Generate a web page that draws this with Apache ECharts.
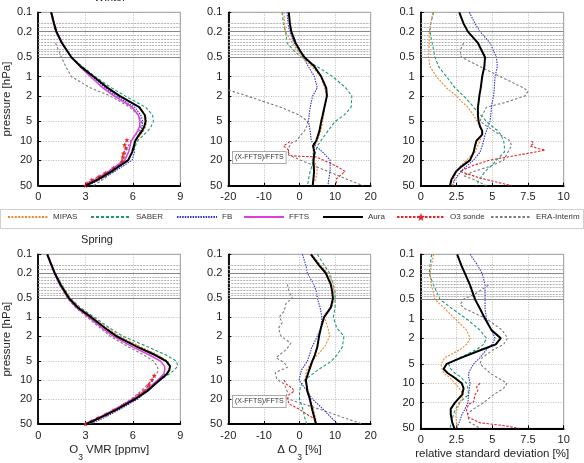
<!DOCTYPE html>
<html><head><meta charset="utf-8">
<script src="https://cdn.jsdelivr.net/npm/echarts@6/dist/echarts.min.js"></script>
<style>html,body{margin:0;padding:0;background:#fff}#c{width:584px;height:463px}</style>
</head><body><div id="c"></div>
<script>
// ---------- pressure levels [hPa] ----------
const P1 = [0.1,0.15,0.2,0.3,0.5,0.7,1,1.5,2,3,4,5,6,7,8,10,15,20,30,40,50];
const P2 = [0.1,0.15,0.2,0.3,0.4,0.5,0.7,1,1.5,2,3,4,5,7,10,12,15,20,30,40,50];
const P3 = [0.1,0.15,0.2,0.3,0.5,0.7,1,1.5,2,2.5,3,4,5,6,7,8,10,12,15,20,25,30,40,50];
const pEraVmr = [0.3,0.5,0.7,1,1.5,2,3,4,5,6,7,8,10,15,20,30,40,50];

// ---------- Winter: O3 VMR [ppmv] ----------
const wVmrAura  = [0.82,1.0,1.15,1.5,2.1,2.7,3.5,4.4,5.15,6.4,6.76,6.8,6.72,6.58,6.4,6.15,5.95,5.7,4.65,3.8,3.0];
const wVmrFFTS  = [0.85,1.02,1.17,1.52,2.1,2.65,3.3,4.1,4.8,5.95,6.35,6.45,6.42,6.3,6.15,5.9,5.72,5.48,4.45,3.65,2.92];
const wVmrMIPAS = [0.81,0.98,1.13,1.49,2.1,2.72,3.5,4.4,5.2,6.4,6.8,6.87,6.8,6.68,6.5,6.2,5.93,5.72,4.68,3.82,3.02];
const wVmrSABER = [0.8,0.97,1.12,1.47,2.1,2.8,3.6,4.65,5.5,6.8,7.25,7.3,7.15,6.95,6.7,6.3,5.98,5.7,4.6,3.72,2.98];
const wVmrFB    = [0.82,1.0,1.14,1.5,2.1,2.7,3.45,4.25,4.95,6.1,6.5,6.62,6.58,6.5,6.38,6.1,6.1,5.95,4.85,3.95,3.15];
const wVmrERA   = [1.1,1.47,1.75,2.1,3.3,4.55,5.8,6.35,6.55,6.5,6.4,6.2,5.85,5.55,5.4,4.75,4.1,3.5];
const wSondeP   = [9.7,11.6,13,15.7,18,21,26.6,31.8,36,40.6,46,50];
const wVmrSonde = [5.62,5.47,5.55,5.4,5.35,5.3,4.77,4.25,3.85,3.4,3.1,3.0];

// ---------- Spring: O3 VMR [ppmv] ----------
const sVmrAura  = [0.57,0.85,1.05,1.4,1.95,2.5,3.35,4.25,4.95,6.3,7.4,8.1,8.35,8.3,8.15,7.7,6.9,6.15,4.9,3.9,3.05];
const sVmrFFTS  = [0.57,0.83,1.02,1.36,1.9,2.42,3.2,4.05,4.75,6.0,7.05,7.75,8.0,8.02,7.95,7.58,6.75,6.0,4.75,3.8,2.95];
const sVmrMIPAS = [0.58,0.87,1.08,1.45,2.02,2.6,3.45,4.4,5.15,6.55,7.6,8.2,8.35,8.25,8.1,7.7,6.9,6.18,4.95,3.95,3.1];
const sVmrSABER = [0.6,0.88,1.1,1.48,2.05,2.65,3.55,4.55,5.35,7.0,8.1,8.75,8.85,8.6,8.3,7.75,6.8,6.0,4.8,3.85,3.0];
const sVmrFB    = [0.58,0.85,1.05,1.41,1.98,2.55,3.4,4.3,5.0,6.4,7.5,8.15,8.35,8.3,8.1,7.6,6.9,6.3,5.1,4.15,3.3];
const sVmrERA   = [1.33,1.85,2.35,3.1,3.95,4.55,5.75,6.7,7.3,7.55,7.6,7.5,7.2,6.5,5.9,4.8,3.9,3.2];
const sSondeP   = [8.5,10,12,15,17,20,25,30,35,40,45,50];
const sVmrSonde = [7.35,7.2,7.0,6.7,6.4,6.05,5.4,4.8,4.3,3.8,3.4,3.0];

// ---------- Winter: relative difference [%] ----------
const wDifAura  = [-3.0,-2.7,-2.3,-1.1,0.2,1.4,4.2,6.1,7.5,7.7,7.0,6.5,6.1,5.6,4.7,3.8,4.2,3.9,4.1,3.9,3.7];
const wDifMIPAS = [-4.4,-4.2,-4.0,-2.0,-0.5,0.8,3.5,6.0,7.0,7.8,7.0,6.8,6.5,6.0,5.0,4.2,3.7,4.2,5.0,4.5,3.5];
const wDifSABER = [-4.9,-4.5,-3.9,-3.5,-1.5,0.5,5.0,9.3,13.0,14.7,14.5,12.5,10.0,8.0,6.0,5.0,4.5,4.0,3.0,2.5,2.3];
const wDifFB    = [-3.5,-3.2,-2.8,-1.5,0.0,1.0,2.5,4.2,5.0,3.7,3.0,2.7,2.5,3.0,3.3,4.5,6.5,8.6,8.6,8.2,8.0];
const wDifEraP  = [1.62,2,3,4,5,6,7,8,10,11,13,16.6,20,30,40,50];
const wDifERA   = [-20,-14.8,-5.3,0,2.3,2.0,1.4,0.5,-0.9,-2.5,-3.1,-3.1,0.3,8.0,13.5,17.9];
const wDifSondeP = [10.3,12,13.9,15.6,17.2,17.8,22,26,30,39,50];
const wDifSonde  = [-2.7,-4.5,-3.1,-3.1,-2.2,4.5,8.5,11,12.8,10.4,10.3];

// ---------- Spring: relative difference [%] ----------
const sDifAura  = [3.2,5.5,7.4,8.8,9.2,9.4,8.8,6.9,6.0,5.5,5.0,4.3,3.6,2.7,1.8,2.0,2.2,2.9,3.6,4.2,4.6];
const sDifMIPAS = [3.5,6.0,8.0,9.5,9.7,9.8,9.0,7.0,8.0,8.5,7.0,5.0,3.5,2.0,1.5,2.0,2.5,3.0,4.0,4.5,4.5];
const sDifSABER = [5.0,7.0,8.5,9.5,10.0,10.0,10.0,9.5,10.5,12.5,12.0,10.5,9.0,5.0,1.5,0.5,0.0,0.0,1.0,1.5,2.0];
const sDifFB    = [0.8,1.8,2.2,4.0,4.8,5.0,5.8,6.3,6.0,5.0,3.5,2.8,2.2,0.5,-0.1,0.8,2.2,3.6,6.9,9.0,10.6];
const sDifEraP  = [0.3,0.4,0.5,0.6,0.8,1,1.2,1.5,2,2.6,3.3,4.4,5.3,6.3,7.6,9.7,11.5,15.4,19.4,23,30,39,50];
const sDifERA   = [-3.4,-2.9,-2.0,-3.8,-4.3,-5.7,-4.8,-5.9,-5.2,-2.4,-3.8,-6.6,-4.3,-3.4,-6.8,-6.4,-4.3,-3.4,-3.8,0,6.4,12,17.7];
const sDifSondeP = [10,11.5,13.6,15,17,20,24,29,37,42,45,50];
const sDifSonde  = [-4.3,-3.8,-2.0,-1.5,-2.9,-3.4,-2.9,-0.1,2.7,4.6,4.1,4.6];

// ---------- Winter: relative standard deviation [%] ----------
const wSdAura  = [2.7,3.0,3.3,4.0,4.5,4.45,4.3,4.2,4.1,4.05,4.0,4.0,4.05,4.15,4.3,4.3,3.9,3.8,3.7,3.45,2.87,2.47,2.15,2.05];
const wSdFB    = [3.4,3.8,4.15,4.85,5.3,5.36,5.2,5.15,5.1,5.0,4.95,4.9,4.85,4.7,4.6,4.5,4.4,4.3,4.15,3.7,3.2,2.8,2.4,2.22];
const wSdMIPAS = [0.85,0.7,0.6,0.6,0.55,0.65,1.1,1.8,2.5,2.9,3.3,3.7,3.95,4.15,4.3,4.25,4.15,4.0,3.8,3.2,2.75,2.5,2.3,2.25];
const wSdSABER = [0.9,0.7,0.65,0.8,1.0,1.25,1.8,2.4,3.0,3.4,3.7,4.2,4.6,5.0,5.4,5.6,5.8,5.85,5.85,5.3,4.9,4.5,4.1,3.9];
const wSdEraP  = [0.3,0.4,0.5,0.7,1,1.5,1.7,2,2.5,3,4,5,7,10,12,15,20,25,30,35,40,50];
const wSdERA   = [3.0,2.75,2.85,4.15,5.55,7.2,7.5,7.3,6.0,4.6,4.3,4.15,5.1,6.25,6.35,6.1,5.8,4.85,3.7,3.0,3.7,4.6];
const wSdSondeP = [10,11,12,13,14,16.5,20,24,30,38,50];
const wSdSonde  = [7.75,7.9,7.65,8.1,8.7,6.95,4.85,3.7,2.75,4.15,6.35];

// ---------- Spring: relative standard deviation [%] ----------
const sSdAura  = [2.55,2.85,3.1,3.45,3.8,4.15,4.5,4.95,5.6,5.25,4.3,2.85,1.82,1.6,1.9,2.3,2.87,3.0,2.9,2.4,2.1,2.1,2.2,2.35];
const sSdFB    = [3.45,4.0,4.3,4.5,4.5,4.5,4.6,4.95,5.2,5.0,4.6,4.15,3.7,3.5,3.35,3.35,3.45,3.4,3.35,3.3,3.1,2.9,2.7,2.5];
const sSdMIPAS = [0.9,0.75,0.65,0.75,1.0,1.7,2.4,3.2,3.46,3.2,2.76,1.7,1.43,1.5,1.6,2.0,2.4,2.7,3.0,2.75,2.55,2.45,2.5,2.57];
const sSdSABER = [0.77,0.65,0.6,0.9,1.35,2.2,3.2,4.15,4.6,4.4,3.9,2.75,1.94,2.1,2.4,2.8,3.2,3.3,3.35,2.7,2.45,2.3,2.15,2.05];
const sSdEraP  = [0.3,0.4,0.5,0.6,0.7,1,1.5,2,2.5,3,4,5,7,10,12,15,20,25,30,40,50];
const sSdERA   = [4.74,3.9,3.0,2.76,3.1,4.6,5.7,6.08,5.8,5.1,4.3,4.15,4.86,6.03,5.8,5.1,4.4,3.7,3.27,3.4,4.15];
const sSdSondeP = [10,11.5,13,15,19.5,21,26,34,41,46,50];
const sSdSonde  = [4.15,3.9,4.0,3.8,3.7,3.35,3.2,3.35,4.15,6.0,6.85];

// ---------- axes / ticks ----------
const yTicks = [0.1,0.2,0.5,1,2,5,10,20,50];
const levelLines = [0.146,0.168,0.234,0.26,0.29,0.33,0.37,0.41,0.45];
const levelLinesDark = [0.2,0.5];
const legendNames = ['MIPAS','SABER','FB','FFTS','Aura','O3 sonde','ERA-Interim'];

// ---------- styles ----------
const STY = {
  'MIPAS':      {color:'#f0852a', width:1.1, type:[2,1.4]},
  'SABER':      {color:'#1b9a72', width:1.1, type:[3,2]},
  'FB':         {color:'#3030d0', width:1.1, type:[1.5,1.1]},
  'FFTS':       {color:'#e03ce0', width:1.5, type:'solid'},
  'Aura':       {color:'#000000', width:2,   type:'solid'},
  'O3 sonde':   {color:'#e4262b', width:1.1, type:[2.5,1.5]},
  'ERA-Interim':{color:'#7a7a7a', width:1.1, type:[2.5,2]}
};
const STAR = 'path://M5,0L6.2,3.4L10,3.8L7,6.2L8,10L5,7.8L2,10L3,6.2L0,3.8L3.8,3.4Z';

function mk(name, xs, ps, gi, markers){
  const s = {
    name, type:'line', xAxisIndex:gi, yAxisIndex:gi,
    data: xs.map((v,i)=>[v, ps[i]]),
    symbol: markers ? STAR : 'none', symbolSize: 5, showSymbol: !!markers,
    itemStyle:{color:STY[name].color},
    lineStyle: Object.assign({}, STY[name]),
    silent:true, animation:false, z: name==='Aura'?5:3
  };
  if (name === 'Aura') {
    s.markLine = {
      silent:true, symbol:['none','none'], label:{show:false}, animation:false,
      data: levelLines.map(p=>({yAxis:p, lineStyle:{color:'#aaaaaa', width:0.9, type:[2,1]}}))
        .concat(levelLinesDark.map(p=>({yAxis:p, lineStyle:{color:'#888888', width:1.1, type:'solid'}})))
    };
  }
  return s;
}

function panelSeries(gi, d){
  const out = [];
  out.push(mk('ERA-Interim', d.era, d.eraP, gi));
  out.push(mk('O3 sonde', d.sonde, d.sondeP, gi, d.markers));
  out.push(mk('FB', d.fb, d.p, gi));
  out.push(mk('SABER', d.saber, d.p, gi));
  out.push(mk('MIPAS', d.mipas, d.p, gi));
  if (d.ffts) out.push(mk('FFTS', d.ffts, d.p, gi));
  out.push(mk('Aura', d.aura, d.p, gi));
  return out;
}

const series = [].concat(
  panelSeries(0,{p:P1, aura:wVmrAura, ffts:wVmrFFTS, mipas:wVmrMIPAS, saber:wVmrSABER, fb:wVmrFB, era:wVmrERA, eraP:pEraVmr, sonde:wVmrSonde, sondeP:wSondeP, markers:true}),
  panelSeries(1,{p:P2, aura:wDifAura, mipas:wDifMIPAS, saber:wDifSABER, fb:wDifFB, era:wDifERA, eraP:wDifEraP, sonde:wDifSonde, sondeP:wDifSondeP}),
  panelSeries(2,{p:P3, aura:wSdAura, mipas:wSdMIPAS, saber:wSdSABER, fb:wSdFB, era:wSdERA, eraP:wSdEraP, sonde:wSdSonde, sondeP:wSdSondeP}),
  panelSeries(3,{p:P1, aura:sVmrAura, ffts:sVmrFFTS, mipas:sVmrMIPAS, saber:sVmrSABER, fb:sVmrFB, era:sVmrERA, eraP:pEraVmr, sonde:sVmrSonde, sondeP:sSondeP, markers:true}),
  panelSeries(4,{p:P2, aura:sDifAura, mipas:sDifMIPAS, saber:sDifSABER, fb:sDifFB, era:sDifERA, eraP:sDifEraP, sonde:sDifSonde, sondeP:sDifSondeP}),
  panelSeries(5,{p:P3, aura:sSdAura, mipas:sSdMIPAS, saber:sSdSABER, fb:sSdFB, era:sSdERA, eraP:sSdEraP, sonde:sSdSonde, sondeP:sSdSondeP})
);

const FONT = 'Liberation Sans, Arial, Helvetica, sans-serif';
const gridPos = [
  {left:37.7, top:12.3, width:142.6, height:173.4},
  {left:228.3, top:12.3, width:142.4, height:173.4},
  {left:420.7, top:12.3, width:143, height:173.4},
  {left:37.7, top:254.3, width:142.6, height:174},
  {left:228.3, top:254.3, width:142.4, height:174},
  {left:420.7, top:254.3, width:143, height:174}
];
const xCfg = [
  {min:0, max:9, interval:3},
  {min:-20, max:20, interval:10},
  {min:0, max:10, interval:2.5}
];
const subRich = {
  a:{fontSize:11.5, fontFamily:FONT, color:'#222', verticalAlign:'top', lineHeight:18},
  s:{fontSize:8.5, fontFamily:FONT, color:'#222', verticalAlign:'bottom', lineHeight:18}
};
const xNames = ['{a|O}{s|3}{a| VMR [ppmv]}', '{a|\u0394 O}{s|3}{a| [%]}', '{a|relative standard deviation [%]}'];

const grid = gridPos.map(g=>Object.assign({show:true, borderColor:'#9a9a9a', borderWidth:1, backgroundColor:'transparent'}, g));
const xAxis = gridPos.map((g,i)=>{
  const c = xCfg[i%3];
  return {
    type:'value', gridIndex:i, min:c.min, max:c.max, interval:c.interval,
    axisLine:{show:true, onZero:false, lineStyle:{color:'#000', width:1.8}},
    axisTick:{show:true, inside:true, length:3, lineStyle:{color:'#000'}},
    axisLabel:{fontSize:11, color:'#222', margin:6, fontFamily:FONT, showMinLabel:true, showMaxLabel:true},
    splitLine:{show:true, lineStyle:{color:'#a8a8a8', width:0.8, type:[1,1.5]}},
    name: i>=3 ? xNames[i%3] : '', nameLocation:'middle', nameGap:20,
    nameTextStyle:{rich:subRich}
  };
});
const yAxis = gridPos.map((g,i)=>({
  type:'log', logBase:10, gridIndex:i, inverse:true, min:0.1, max:50,
  axisLine:{show:true, onZero:false, lineStyle:{color:'#000', width:1.8}},
  axisTick:{show:true, inside:true, length:3, customValues:yTicks, lineStyle:{color:'#000'}},
  axisLabel:{customValues:yTicks, fontSize:11, color:'#222', margin:6, fontFamily:FONT,
    formatter:v=>String(Math.round(v*100)/100)},
  splitLine:{show:true, lineStyle:{color:'#a8a8a8', width:0.8, type:[1,1.5]}},
  minorTick:{show:false}, minorSplitLine:{show:false},
  name: i%3===0 ? 'pressure [hPa]' : '', nameLocation:'middle', nameGap:24, nameRotate:90,
  nameTextStyle:{fontSize:11.5, color:'#222', fontFamily:FONT}
}));

const legendX = [7, 90, 176, 243, 322, 396, 490];
const legend = legendNames.map((n,i)=>({
  data:[{name:n, itemStyle: n==='O3 sonde' ? {color:STY[n].color} : {opacity:0}}],
  left:legendX[i], top:213, itemWidth: n==='O3 sonde'?48:40, itemHeight:10, itemGap:5,
  padding:0, width:120,
  selectedMode:false, textStyle:{fontSize:8, color:'#333', fontFamily:FONT, width:80, overflow:'none'}
}));

const chart = echarts.init(document.getElementById('c'), null, {renderer:'canvas'});
chart.setOption({
  animation:false,
  backgroundColor:'#fff',
  grid, xAxis, yAxis, legend, series,
  graphic:[
    {type:'rect', z:-1, shape:{x:0.5, y:209.5, width:583, height:19}, style:{fill:'#fff', stroke:'#cfcfcf', lineWidth:1}},
    {type:'text', x:110, y:-2, style:{text:'Winter', textAlign:'center', textVerticalAlign:'middle', fontSize:11, fill:'#222', fontFamily:FONT}},
    {type:'text', x:97, y:240, style:{text:'Spring', textAlign:'center', textVerticalAlign:'middle', fontSize:11, fill:'#222', fontFamily:FONT}},
    {type:'text', x:233, y:152, z:10, style:{text:'(X-FFTS)/FFTS', fontSize:7, fill:'#333', fontFamily:FONT, backgroundColor:'#fff', borderColor:'#aaa', borderWidth:1, padding:[2,2]}},
    {type:'text', x:233, y:396, z:10, style:{text:'(X-FFTS)/FFTS', fontSize:7, fill:'#333', fontFamily:FONT, backgroundColor:'#fff', borderColor:'#aaa', borderWidth:1, padding:[2,2]}}
  ]
});
</script></body></html>
